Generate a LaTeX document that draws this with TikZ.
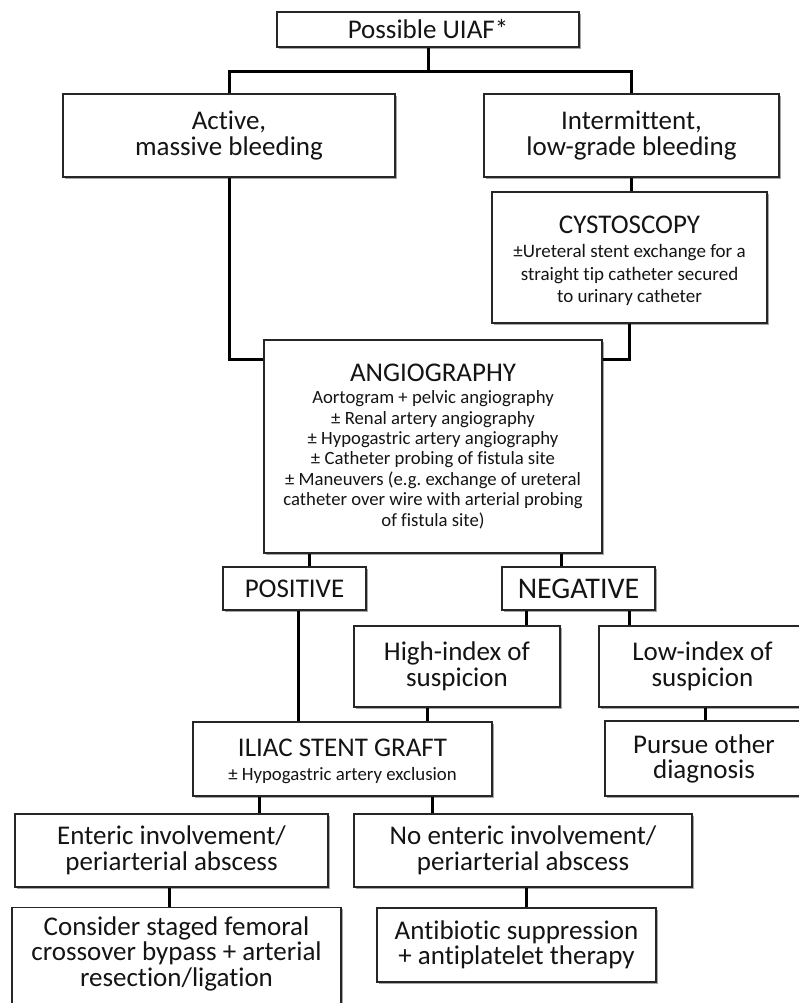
\documentclass[tikz,border=0pt]{standalone}
\usepackage{fontspec}
\setmainfont{Carlito}[Ligatures=NoCommon]
\usetikzlibrary{shadows,backgrounds}
\frenchspacing
\tikzset{
  box/.style={draw=black!85, line width=1.4pt, fill=white, inner xsep=2pt, inner ysep=0pt,
    align=flush center, font=\fontsize{27}{26}\selectfont, text=black!92,
    drop shadow={shadow xshift=1.6pt, shadow yshift=-1.6pt, opacity=0.35, fill=black}},
  conn/.style={line width=3pt, black, line join=miter},
}
\begin{document}
\begin{tikzpicture}[x=1pt, y=-1pt]
\useasboundingbox (0,0) rectangle (798,1003);

% nodes
\node[box, text width=298pt, minimum height=35pt] (top) at (428,29.5) {Possible UIAF*};
\node[box, text width=328pt, minimum height=83pt] (active) at (229,135.5) {Active,\\massive bleeding};
\node[box, text width=291pt, minimum height=83pt] (inter) at (631.5,135.5) {Intermittent,\\low-grade bleeding};
\node[box, text width=271pt, minimum height=131pt] (cysto) at (629.5,257.5)
  {{\fontsize{27}{27}\selectfont \rule{0pt}{24.4pt}CYSTOSCOPY\par}\vspace{1.5pt}%
   {\fontsize{19}{22.5}\selectfont ±Ureteral stent exchange for a\\straight tip catheter secured\\to urinary catheter\par}};
\node[box, text width=334pt, minimum height=213pt] (angio) at (433,446.5)
  {{\fontsize{27}{27}\selectfont ANGIOGRAPHY\par}\vspace{1.6pt}%
   {\fontsize{18.7}{20.4}\selectfont Aortogram + pelvic angiography\\± Renal artery angiography\\± Hypogastric artery angiography\\± Catheter probing of fistula site\\± Maneuvers (e.g. exchange of ureteral\\catheter over wire with arterial probing\\of fistula site)\par}};
\node[box, text width=139pt, minimum height=43pt, font=\fontsize{27}{27}\selectfont] (pos) at (294.5,588.5) {POSITIVE};
\node[box, text width=149pt, minimum height=43pt, font=\fontsize{30}{30}\selectfont] (neg) at (578.5,588.5) {NEGATIVE};
\node[box, text width=202pt, minimum height=81pt] (high) at (457,666.5) {High-index of\\suspicion};
\node[box, text width=203pt, minimum height=81pt] (low) at (702.5,666.5) {Low-index of\\suspicion};
\node[box, text width=295pt, minimum height=74pt] (iliac) at (342.5,759)
  {{\fontsize{27}{27}\selectfont \rule{0pt}{22pt}ILIAC STENT GRAFT\par}%
   {\fontsize{18.8}{24}\selectfont ± Hypogastric artery exclusion\par}};
\node[box, text width=194pt, minimum height=75pt, font=\fontsize{27}{25}\selectfont] (pursue) at (704,758.5) {Pursue other\\diagnosis};
\node[box, text width=309pt, minimum height=73pt] (enteric) at (171.5,850.5) {Enteric involvement/\\periarterial abscess};
\node[box, text width=334pt, minimum height=73pt] (noent) at (523,850.5) {No enteric involvement/\\periarterial abscess};
\node[box, text width=325pt, inner ysep=9pt, anchor=north, font=\fontsize{27}{25.5}\selectfont] (consider) at (176.5,907)
  {Consider staged femoral\\crossover bypass + arterial\\resection/ligation\rule[-50pt]{0pt}{50pt}};
\node[box, text width=275pt, minimum height=74pt, font=\fontsize{27}{25}\selectfont] (anti) at (516.5,945) {Antibiotic suppression\\+ antiplatelet therapy};

% helper coordinates
\coordinate (j1) at (0,72);
\coordinate (j2) at (0,359);
\coordinate (xa) at (309,0);
\coordinate (xb) at (561,0);
\coordinate (xc) at (298,0);
\coordinate (xd) at (526,0);
\coordinate (xe) at (629,0);
\coordinate (xf) at (427,0);
\coordinate (xg) at (705,0);
\coordinate (xh) at (259,0);
\coordinate (xi) at (432,0);
\coordinate (xj) at (169,0);
\coordinate (xk) at (526,0);

\begin{scope}[on background layer]
\draw[conn] (top.south) -- (top.south |- j1);
\draw[conn] (active.north) -- (active.north |- j1) -- (inter.north |- j1) -- (inter.north);
\draw[conn] (inter.south) -- (cysto.north -| inter.south);
\draw[conn] (active.south) -- (active.south |- j2) -- (angio.west |- j2);
\draw[conn] (cysto.south) -- (cysto.south |- j2) -- (angio.east |- j2);
\draw[conn] (angio.south -| xa) -- (pos.north -| xa);
\draw[conn] (angio.south -| xb) -- (neg.north -| xb);
\draw[conn] (pos.south -| xc) -- (iliac.north -| xc);
\draw[conn] (neg.south -| xd) -- (high.north -| xd);
\draw[conn] (neg.south -| xe) -- (low.north -| xe);
\draw[conn] (high.south -| xf) -- (iliac.north -| xf);
\draw[conn] (low.south -| xg) -- (pursue.north -| xg);
\draw[conn] (iliac.south -| xh) -- (enteric.north -| xh);
\draw[conn] (iliac.south -| xi) -- (noent.north -| xi);
\draw[conn] (enteric.south -| xj) -- (consider.north -| xj);
\draw[conn] (noent.south -| xk) -- (anti.north -| xk);
\end{scope}
\end{tikzpicture}
\end{document}
